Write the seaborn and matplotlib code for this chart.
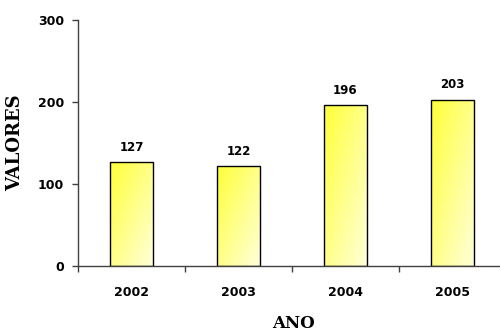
import numpy as np
import pandas as pd
import matplotlib
matplotlib.use("Agg")
import matplotlib.pyplot as plt
import seaborn as sns

anos = ["2002", "2003", "2004", "2005"]
valores = [127, 122, 196, 203]
yticks = [0, 100, 200, 300]

sns.set_theme(style="white")
plt.rcParams["font.family"] = ["DejaVu Sans"]
plt.rcParams["text.color"] = "black"
plt.rcParams["xtick.labelcolor"] = "black"
plt.rcParams["ytick.labelcolor"] = "black"
plt.rcParams["axes.labelcolor"] = "black"

df = pd.DataFrame({"ANO": anos, "VALORES": valores})

fig = plt.figure(figsize=(5.0, 3.33), dpi=100)
ax = fig.add_axes([0.156, 0.201, 0.844, 0.739])

sns.barplot(data=df, x="ANO", y="VALORES", ax=ax, width=0.4,
            color="#FFFF60", edgecolor="black", linewidth=1.0, saturation=1)

# yellow gradient fill clipped to each bar
grad = np.zeros((64, 64, 4))
xx, yy = np.meshgrid(np.linspace(0, 1, 64), np.linspace(0, 1, 64))
t = np.clip((xx + yy) / 2.0, 0, 1)  # 0 at top-left, 1 at bottom-right
top = np.array([1.0, 1.0, 0.22])
bot = np.array([1.0, 1.0, 0.85])
for c in range(3):
    grad[..., c] = top[c] * (1 - t) + bot[c] * t
grad[..., 3] = 1.0

for patch in list(ax.patches):
    x0, y0 = patch.get_x(), patch.get_y()
    w, h = patch.get_width(), patch.get_height()
    im = ax.imshow(grad, extent=[x0, x0 + w, y0, y0 + h], origin="upper",
                   aspect="auto", zorder=patch.get_zorder() - 0.1,
                   interpolation="bilinear")
    im.set_clip_path(patch)
    patch.set_facecolor("none")

ax.set_xlim(-0.5, 3.444)
ax.set_ylim(0, 300)
ax.set_yticks(yticks)
ax.set_yticklabels([str(v) for v in yticks], fontsize=9, fontweight="bold")

ax.set_xticks([-0.5, 0.5, 1.5, 2.5], labels=[])
ax.set_xticks(range(len(anos)), labels=anos, minor=True)
for lbl in ax.get_xticklabels(minor=True):
    lbl.set_fontsize(9)
    lbl.set_fontweight("bold")

ax.tick_params(axis="y", which="major", direction="out", length=4, width=1,
               color="#404040", pad=6, left=True)
ax.tick_params(axis="x", which="major", direction="out", length=4, width=1,
               color="#404040", bottom=True)
ax.tick_params(axis="x", which="minor", length=0, pad=14, bottom=True)

for s in ["top", "right"]:
    ax.spines[s].set_visible(False)
for s in ["left", "bottom"]:
    ax.spines[s].set_color("#404040")
    ax.spines[s].set_linewidth(1.0)

ax.bar_label(ax.containers[0], labels=[str(v) for v in valores],
             padding=6, fontsize=8.5, fontweight="bold")

ax.set_xlabel("ANO", family="DejaVu Serif", fontweight="bold", fontsize=12)
ax.set_ylabel("VALORES", family="DejaVu Serif", fontweight="bold", fontsize=13)
ax.xaxis.set_label_coords(0.51, -0.2)
ax.yaxis.set_label_coords(-0.128, 0.5)

fig.savefig("out.png", dpi=100)
